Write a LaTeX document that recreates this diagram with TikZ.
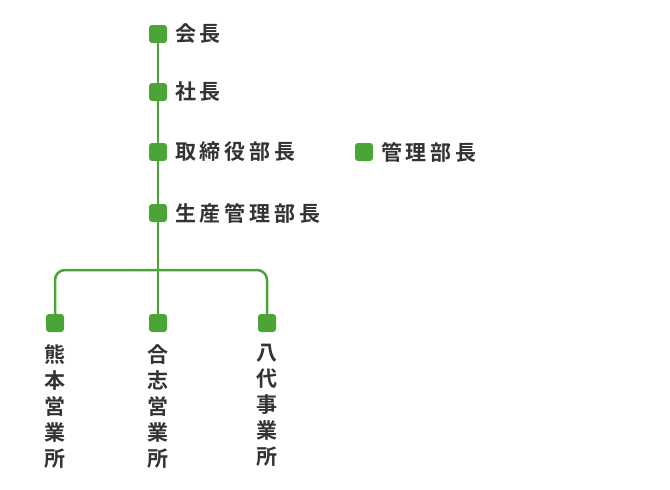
\documentclass[tikz,border=0pt]{standalone}
\usepackage{fontspec}
\usetikzlibrary{calc}
\newfontfamily\jpfont{Noto Sans CJK JP}[BoldFont={* Bold}, LetterSpace=18]
\definecolor{leaf}{HTML}{4AA536}
\definecolor{ink}{HTML}{333333}
\begin{document}
\begin{tikzpicture}[x=1pt, y=-1pt]
    \tikzstyle{post}=[fill=leaf, rounded corners=3pt, minimum size=18pt, inner sep=0pt];
    \tikzstyle{title}=[right, text=ink, font=\jpfont\bfseries\fontsize{21}{21}\selectfont, inner sep=0pt];
    \tikzstyle{vtitle}=[below, text=ink, font=\jpfont\bfseries\fontsize{21}{26}\selectfont, align=center, inner sep=0pt];
    \tikzstyle{link}=[draw=leaf, line width=2.5pt];
    \useasboundingbox (0,0) rectangle (670,490);

    \node[post] (chair) at (158, 34) {};
    \node[post] (pres) at (158, 92) {};
    \node[post] (dir) at (158, 152) {};
    \node[post] (prod) at (158, 213) {};
    \node[post] (mgmt) at (364, 152) {};

    \node[post] (kuma) at (55, 323) {};
    \node[post] (goshi) at (158, 323) {};
    \node[post] (yatsu) at (267, 323) {};

    \coordinate (fork) at (158, 270);

    \draw[link] (chair) -- (pres) -- (dir) -- (prod) -- (goshi);
    \draw[link, rounded corners=10pt] (kuma) |- (fork) -| (yatsu);

    \node[title] at ($(chair)+(17,0)$) {会長};
    \node[title] at ($(pres)+(17,0)$) {社長};
    \node[title] at ($(dir)+(17,0)$) {取締役部長};
    \node[title] at ($(prod)+(17,0)$) {生産管理部長};
    \node[title] at ($(mgmt)+(17,0)$) {管理部長};

    \node[vtitle] at ($(kuma)+(0,21)$) {熊\\本\\営\\業\\所};
    \node[vtitle] at ($(goshi)+(0,21)$) {合\\志\\営\\業\\所};
    \node[vtitle] at ($(yatsu)+(0,21)$) {八\\代\\事\\業\\所};
\end{tikzpicture}
\end{document}
